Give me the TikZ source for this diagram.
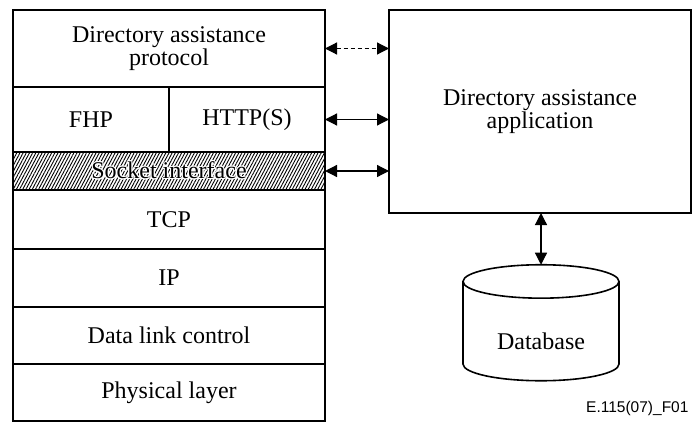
\documentclass[tikz,border=0pt]{standalone}
\usepackage{fontspec}
\setmainfont{Liberation Serif}
\newfontfamily\figfont{Liberation Sans}
\usepackage{contour}
\contourlength{1.1pt}
\usetikzlibrary{arrows.meta,patterns.meta,shapes.geometric}

\begin{document}
\begin{tikzpicture}[x=1pt, y=-1pt,
	layer/.style={draw, line width=2pt, inner sep=0pt, outer sep=0pt, align=center, font=\fontsize{24}{19.5}\selectfont},
	link/.style={line width=1.2pt, {Triangle[length=12pt,width=12pt]}-{Triangle[length=12pt,width=12pt]}}]
	\useasboundingbox (0, 0) rectangle (692, 423);

	% protocol stack
	\node[layer, minimum width=312pt, minimum height=77pt] (dap) at (169, 48.5) {Directory assistance\\protocol};
	\node[layer, minimum width=156pt, minimum height=65pt] (fhp) at (91, 119.5) {FHP};
	\node[layer, minimum width=156pt, minimum height=65pt] (http) at (247, 119.5) {HTTP(S)};
	\node[layer, minimum width=312pt, minimum height=38pt, pattern={Lines[angle=62, distance=2.8pt, line width=0.9pt]}] (sock) at (169, 171) {\contour{white}{Socket interface}};
	\node[layer, minimum width=312pt, minimum height=59pt] (tcp) at (169, 219.5) {TCP};
	\node[layer, minimum width=312pt, minimum height=58pt] (ip) at (169, 278) {IP};
	\node[layer, minimum width=312pt, minimum height=57pt] (dlc) at (169, 335.5) {Data link control};
	\node[layer, minimum width=312pt, minimum height=57pt] (phy) at (169, 392.5) {Physical layer};

	% application and database
	\node[layer, minimum width=302pt, minimum height=203pt] (app) at (540, 111.5) {Directory assistance\\application};
	\node[layer, line width=1.6pt, cylinder, shape border rotate=90, aspect=0.38, minimum width=156pt, minimum height=116pt] (db) at (541, 331.5) {\raisebox{-17.5pt}[0pt][0pt]{Database}};

	\draw[link, dash pattern=on 4pt off 3pt] (dap.east) -- (dap.east -| app.west);
	\draw[link] (http.east) -- (http.east -| app.west);
	\draw[link] (sock.east) -- (sock.east -| app.west);
	\draw[link] (app.south -| db.north) -- (db.north);

	\node[anchor=east, font=\figfont\fontsize{15.5}{15.5}\selectfont] (fig) at (692, 408) {E.115(07)\_F01};
\end{tikzpicture}
\end{document}
